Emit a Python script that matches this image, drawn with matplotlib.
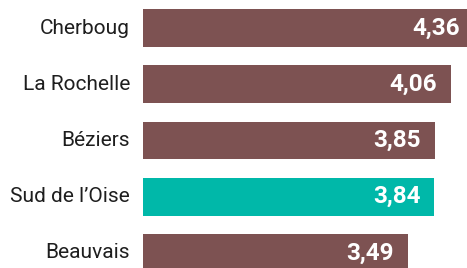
import matplotlib
matplotlib.use('Agg')
import matplotlib.pyplot as plt

# données
villes = ['Cherboug', 'La Rochelle', 'Béziers', "Sud de l’Oise", 'Beauvais']
valeurs = [4.36, 4.06, 3.85, 3.84, 3.49]
labels = ['4,36', '4,06', '3,85', '3,84', '3,49']
highlight = "Sud de l’Oise"

brown = '#7d5252'
teal = '#00b8a9'

fig = plt.figure(figsize=(4.67, 2.68), dpi=100)
ax = fig.add_axes([143 / 467, 0, 1 - 143 / 467, 1])

colors = [teal if v == highlight else brown for v in villes]
ypos = list(range(len(villes)))
ax.barh(ypos, valeurs, height=0.675, color=colors)

ax.set_xlim(0, 324 / 75.9)
ax.set_ylim(4.267, -0.498)
ax.axis('off')

for y, v, lab in zip(ypos, valeurs, labels):
    ax.annotate(lab, (v, y), xytext=(-14, 0), textcoords='offset pixels',
                ha='right', va='center', color='white', fontsize=17.5,
                fontweight='bold', family='Roboto', annotation_clip=False)

for y, name in zip(ypos, villes):
    ax.annotate(name, (0, y), xytext=(-13, 0), textcoords='offset pixels',
                ha='right', va='center', color='#1e1e1e', fontsize=15,
                family='Roboto', annotation_clip=False)

fig.savefig('out.png', dpi=100)
